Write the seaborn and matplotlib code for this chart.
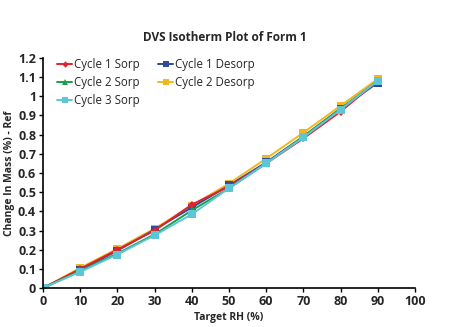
import matplotlib
matplotlib.use("Agg")
import matplotlib.pyplot as plt
import seaborn as sns
import pandas as pd
from matplotlib.ticker import FuncFormatter

sorp_rh = [0, 10, 20, 30, 40, 50, 60, 70, 80, 90]
desorp_rh = [90, 80, 70, 60, 50, 40, 30, 20, 10, 0]

cycle1_sorp = [0.0, 0.10, 0.20, 0.30, 0.435, 0.53, 0.65, 0.78, 0.92, 1.08]
cycle1_desorp = [1.07, 0.935, 0.79, 0.655, 0.535, 0.42, 0.305, 0.195, 0.095, 0.0]
cycle2_sorp = [0.0, 0.09, 0.18, 0.28, 0.405, 0.52, 0.65, 0.79, 0.935, 1.08]
cycle2_desorp = [1.09, 0.95, 0.81, 0.675, 0.545, 0.43, 0.31, 0.205, 0.105, 0.0]
cycle3_sorp = [0.0, 0.085, 0.175, 0.275, 0.385, 0.52, 0.65, 0.785, 0.93, 1.08]

series = [
    ("Cycle 1 Sorp", sorp_rh, cycle1_sorp, "#E5202E", "D"),
    ("Cycle 2 Sorp", sorp_rh, cycle2_sorp, "#1E9E4A", "^"),
    ("Cycle 3 Sorp", sorp_rh, cycle3_sorp, "#5CC6D6", "s"),
    ("Cycle 1 Desorp", desorp_rh, cycle1_desorp, "#2F4B9C", "s"),
    ("Cycle 2 Desorp", desorp_rh, cycle2_desorp, "#F3B71E", "s"),
]

sns.set_theme(style="white")
plt.rcParams["font.family"] = ["Open Sans", "DejaVu Sans"]

fig = plt.figure(figsize=(4.5, 3.27), dpi=100)
ax = fig.add_axes([0.0956, 0.119, 0.8264, 0.704])

draw_order = [4, 3, 0, 1, 2]
handles = {}
for i in draw_order:
    name, xs, ys, color, marker = series[i]
    df = pd.DataFrame({"rh": xs, "mass": ys})
    sns.lineplot(data=df, x="rh", y="mass", ax=ax, color=color, marker=marker,
                 markersize=5.5 if marker != "D" else 4, markeredgewidth=0,
                 linewidth=1.4, sort=False, label=name, legend=False)
    handles[name] = ax.lines[-1]

ax.set_xlim(0, 100)
ax.set_ylim(0, 1.2)
ax.set_xticks(range(0, 101, 10))
ax.set_yticks([i / 10 for i in range(13)])
ax.yaxis.set_major_formatter(FuncFormatter(lambda v, p: f"{v:g}"))

for s in ["top", "right"]:
    ax.spines[s].set_visible(False)
for s in ["left", "bottom"]:
    ax.spines[s].set_color("black")
    ax.spines[s].set_linewidth(1.2)

ax.tick_params(axis="both", direction="out", length=3, width=1, color="black",
               labelsize=9, pad=2, bottom=True, left=True)
for lbl in ax.get_xticklabels() + ax.get_yticklabels():
    lbl.set_fontweight("bold")

ax.set_xlabel("Target RH (%)", fontsize=7.5, fontweight="bold", labelpad=3)
ax.set_ylabel("Change In Mass (%) - Ref", fontsize=7.5, fontweight="bold", labelpad=2)

fig.text(0.5, 0.884, "DVS Isotherm Plot of Form 1", ha="center", va="center",
         fontsize=8.5, fontweight="bold")

names = [s[0] for s in series]
leg = ax.legend([handles[n] for n in names], names, loc="upper left", ncol=2,
                frameon=False, fontsize=8.3, handlelength=1.3, handletextpad=0.15,
                columnspacing=1.6, labelspacing=0.45, bbox_to_anchor=(0.02, 1.03),
                borderaxespad=0.2, markerscale=0.8)

fig.savefig("out.png", dpi=100, facecolor="white")
